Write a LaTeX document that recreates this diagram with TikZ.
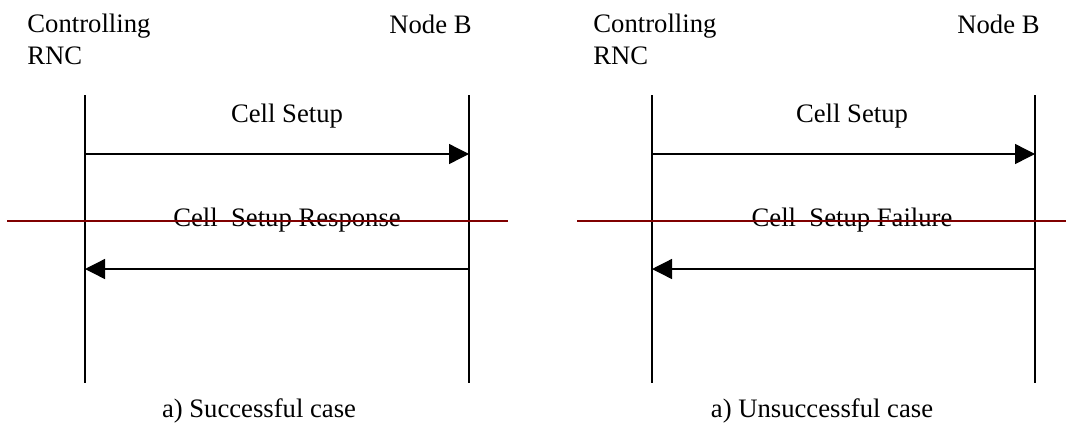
\documentclass[tikz,border=0pt]{standalone}
\usepackage{fontspec}
\setmainfont{Liberation Serif}
\usetikzlibrary{arrows.meta}

\definecolor{strikered}{RGB}{128,0,0}

\tikzset{
	life/.style={line width=0.6pt},
	msg/.style={line width=0.6pt,-{Triangle[length=9pt,width=9pt]}},
	strikeline/.style={line width=0.5pt,draw=strikered},
	lbl/.style={inner sep=0pt,font=\fontsize{12}{14}\selectfont},
}

\begin{document}
\begin{tikzpicture}[x=0.45pt,y=-0.45pt]

	\useasboundingbox (0,0) rectangle (1066,423);

	% a) successful case
	\coordinate (rncTopA) at (85,95);
	\coordinate (rncBotA) at (85,383);
	\coordinate (nbTopA) at (469,95);
	\coordinate (nbBotA) at (469,383);
	\coordinate (rncM1A) at (85,154);
	\coordinate (nbM1A) at (469,154);
	\coordinate (rncM2A) at (85,269);
	\coordinate (nbM2A) at (469,269);
	\coordinate (redLA) at (7,221);
	\coordinate (redRA) at (508,221);

	\node[lbl,align=left,anchor=base west] (rncA) at (27,64) {Controlling\\RNC};
	\node[lbl,anchor=base east] (nodebA) at (472,33) {Node B};

	\draw[life] (rncTopA) -- (rncBotA);
	\draw[life] (nbTopA) -- (nbBotA);

	\node[lbl,anchor=base] (setupA) at (287,122) {Cell Setup};
	\draw[msg] (rncM1A) -- (nbM1A);

	\node[lbl,anchor=base] (respA) at (287,226) {Cell\ \ Setup Response};
	\draw[msg] (nbM2A) -- (rncM2A);

	\draw[strikeline] (redLA) -- (redRA);

	\node[lbl,anchor=base] (capA) at (259,417) {a) Successful case};

	% a) unsuccessful case
	\coordinate (rncTopB) at (652,95);
	\coordinate (rncBotB) at (652,383);
	\coordinate (nbTopB) at (1035,95);
	\coordinate (nbBotB) at (1035,383);
	\coordinate (rncM1B) at (652,154);
	\coordinate (nbM1B) at (1035,154);
	\coordinate (rncM2B) at (652,269);
	\coordinate (nbM2B) at (1035,269);
	\coordinate (redLB) at (577,221);
	\coordinate (redRB) at (1066,221);

	\node[lbl,align=left,anchor=base west] (rncB) at (593,64) {Controlling\\RNC};
	\node[lbl,anchor=base east] (nodebB) at (1040,33) {Node B};

	\draw[life] (rncTopB) -- (rncBotB);
	\draw[life] (nbTopB) -- (nbBotB);

	\node[lbl,anchor=base] (setupB) at (852,122) {Cell Setup};
	\draw[msg] (rncM1B) -- (nbM1B);

	\node[lbl,anchor=base] (failB) at (852,226) {Cell\ \ Setup Failure};
	\draw[msg] (nbM2B) -- (rncM2B);

	\draw[strikeline] (redLB) -- (redRB);

	\node[lbl,anchor=base] (capB) at (822,417) {a) Unsuccessful case};

\end{tikzpicture}
\end{document}
